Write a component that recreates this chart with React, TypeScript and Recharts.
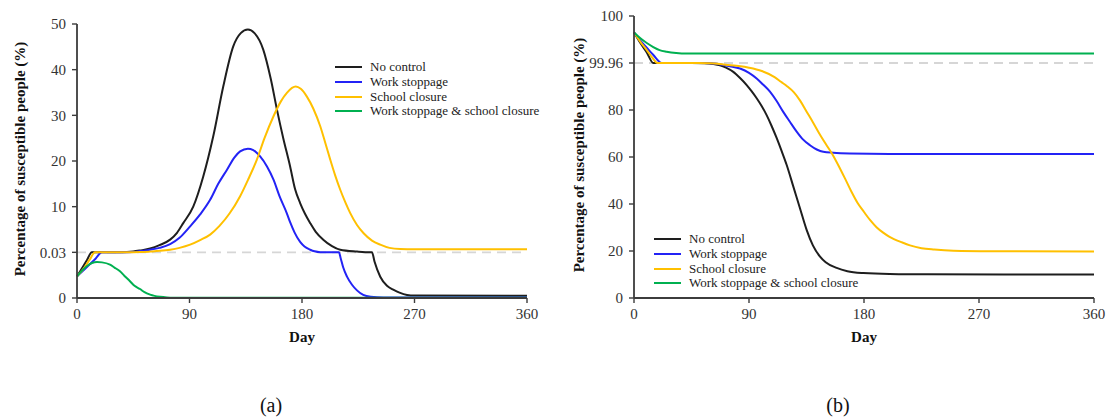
import { LineChart, Line, XAxis, YAxis, ReferenceLine, Label } from 'recharts';

// broken axes: each tick takes the same height, linear between ticks
const leftKnots = [0, 0.03, 10, 20, 30, 40, 50];
const leftTickLabels = ['0', '0.03', '10', '20', '30', '40', '50'];
const rightKnots = [0, 20, 40, 60, 80, 99.96, 100];
const rightTickLabels = ['0', '20', '40', '60', '80', '99.96', '100'];
const dayTicks = [0, 90, 180, 270, 360];
const posTicks = [0, 1, 2, 3, 4, 5, 6];

// (a) [day, %]
const aNoControl: [number, number][] = [
  [0, 0.0142], [4, 0.0195], [8, 0.025], [11.8, 0.03], [25, 0.03], [35, 0.03], [45, 0.2], [50.4, 0.43],
  [58.5, 0.85], [66, 1.6], [74.5, 2.8], [80, 4.3], [85, 6.4], [93, 10], [101, 16.6], [109, 25.4],
  [117, 36.3], [125, 45.1], [131, 48], [136.7, 48.8], [142, 48], [149, 44.4], [155, 38], [160, 31.2],
  [165, 25], [170.5, 18.8], [174.5, 13.8], [178.5, 10.8], [182.5, 8.4], [186.6, 6.4], [191, 4.5],
  [197, 2.8], [204, 1.4], [210.6, 0.6], [224, 0.2], [234.6, 0.03], [236, 0.03], [238, 0.024],
  [242.6, 0.014], [248, 0.008], [253, 0.0055], [258, 0.0035], [264, 0.002], [270, 0.0016], [360, 0.0015],
];
const aWork: [number, number][] = [
  [0, 0.0142], [5, 0.018], [10, 0.022], [15, 0.026], [19.8, 0.03], [35, 0.03], [45, 0.1], [50.4, 0.3],
  [58.5, 0.6], [66, 1.0], [74.5, 1.8], [82, 3.2], [90.5, 5.7], [98.5, 8.3], [106.5, 11.5], [113, 15],
  [120, 18.1], [126, 20.8], [130.5, 22.1], [136.7, 22.7], [141, 22.4], [146.5, 21], [152, 18.8],
  [157.2, 15.9], [162, 12.3], [167.8, 8.6], [170.5, 6.6], [174, 4.4], [178.5, 2.3], [182, 1.3],
  [186.6, 0.6], [190, 0.25], [194.6, 0.05], [200, 0.03], [209.5, 0.03], [211, 0.026], [213, 0.02],
  [216, 0.014], [220, 0.0087], [224, 0.005], [229, 0.002], [235, 0.0008], [245, 0.0003], [360, 0.0003],
];
const aSchool: [number, number][] = [
  [0, 0.0142], [5, 0.019], [10, 0.025], [14.4, 0.03], [40, 0.03], [50.4, 0.08], [58.5, 0.2],
  [66.5, 0.35], [74.5, 0.6], [82, 1.0], [90.5, 1.7], [98.5, 2.7], [106.5, 3.9], [114, 5.8], [122, 8.5],
  [130.5, 12.3], [137, 16], [143.9, 20.3], [150, 25], [157.2, 29.8], [163, 33], [167.9, 34.9], [172, 36],
  [175, 36.3], [179, 35.8], [183.9, 34.1], [189, 31.5], [194.6, 27.6], [198.6, 24], [202.6, 20.3],
  [206.6, 16.8], [210.6, 13.7], [214.6, 11], [218.6, 8.6], [224, 6], [229.3, 4.2], [236, 2.6],
  [242.6, 1.7], [250, 1.0], [258.6, 0.75], [270, 0.7], [360, 0.7],
];
const aBoth: [number, number][] = [
  [0, 0.0142], [4, 0.018], [8, 0.021], [12, 0.023], [16, 0.0236], [20, 0.0234], [26.4, 0.0219],
  [30, 0.02], [34.4, 0.0175], [38, 0.0145], [42.4, 0.011], [46, 0.008], [50.4, 0.0059], [54, 0.0038],
  [58.5, 0.0022], [62, 0.0014], [66.5, 0.0008], [72, 0.0004], [80, 0.0002], [90, 0.0001], [360, 0.0001],
];

// (b) [day, %]
const bNoControl: [number, number][] = [
  [0, 99.986], [5, 99.977], [10, 99.969], [15.1, 99.96], [30, 99.96], [45, 99.955], [55, 99.86],
  [62, 99.56], [67.3, 99.0], [72, 98.0], [77.7, 96.2], [83, 93.6], [88.2, 90.6], [92, 88], [96, 85],
  [100, 81.6], [103.8, 77.8], [107.7, 73.2], [111.7, 68], [115.5, 62.6], [119.5, 56.6], [124.7, 47.4],
  [130, 38], [135.1, 29], [140, 22.4], [145.6, 17.6], [150, 15.2], [158.6, 12.8], [167, 11.4],
  [179.5, 10.6], [200, 10.2], [230, 10.1], [360, 10],
];
const bWork: [number, number][] = [
  [0, 99.986], [5, 99.979], [10, 99.973], [15, 99.967], [21.7, 99.96], [40, 99.96], [55, 99.93],
  [62, 99.75], [67.3, 99.36], [75, 98.6], [83, 97.6], [90, 95.8], [96, 93.4], [101, 90.8], [106.4, 87.8],
  [111.5, 83.9], [116.8, 79.2], [122, 75], [127.3, 70.8], [132, 67.6], [137.7, 65], [143, 63.2],
  [148.1, 62.2], [156, 61.8], [169, 61.5], [200, 61.3], [360, 61.3],
];
const bSchool: [number, number][] = [
  [0, 99.986], [5, 99.978], [10, 99.971], [14, 99.965], [18.3, 99.96], [40, 99.96], [50, 99.95],
  [60, 99.86], [70, 99.36], [80, 98.76], [90, 97.96], [100, 96.57], [110, 93.97], [115, 91.98],
  [120, 89.98], [125, 87.58], [130, 84], [135, 79.4], [140, 74.8], [145, 70], [150, 65.6], [155, 61.4],
  [160, 56.4], [165, 51], [170, 45.4], [175, 40.4], [180, 36.6], [185, 33], [190, 30], [195, 27.8],
  [200, 26], [210, 23.6], [216, 22.4], [225, 21.2], [235, 20.6], [250, 20.1], [280, 19.9], [360, 19.8],
];
const bBoth: [number, number][] = [
  [0, 99.986], [5, 99.981], [10, 99.977], [15.1, 99.9736], [20, 99.971], [25.6, 99.9696], [33, 99.9685],
  [41, 99.968], [360, 99.968],
];

const seriesNames = ['No control', 'Work stoppage', 'School closure', 'Work stoppage & school closure'];
const seriesColors = ['#1e1e1e', '#2323f5', '#ffc000', '#00b050'];

const font = '"Liberation Serif", "Times New Roman", serif';
const axisColor = '#3c3c3c';

function toPos(v: number, knots: number[]) {
  for (let i = 0; i < knots.length - 1; i++) {
    if (v <= knots[i + 1]) return i + (v - knots[i]) / (knots[i + 1] - knots[i]);
  }
  return knots.length - 1;
}

const toRows = (pts: [number, number][], knots: number[]) =>
  pts.map(([day, v]) => ({ day, y: toPos(v, knots) }));

const yLabel = (cx: number) => (props: any) => {
  const vb = props.viewBox || { y: 0, height: 0 };
  const cy = vb.y + vb.height / 2 - 2;
  return (
    <text x={cx} y={cy} transform={`rotate(-90 ${cx} ${cy})`} textAnchor="middle" dominantBaseline="central"
      style={{ fontWeight: 'bold', fontSize: 15, fill: '#111', fontFamily: font }}>
      Percentage of susceptible people (%)
    </text>
  );
};

function Panel({ series, knots, labels, refValue, top, right, left, labelX }: any) {
  return (
    <LineChart width={550} height={360} margin={{ top, right, bottom: 32, left }}>
      <XAxis type="number" dataKey="day" domain={[0, 360]} ticks={dayTicks} height={30} tickSize={5} tickMargin={5}
        axisLine={{ stroke: axisColor, strokeWidth: 1.8 }} tickLine={{ stroke: axisColor, strokeWidth: 1.4 }}
        tick={{ fill: '#333', fontSize: 15, fontFamily: font }}>
        <Label value="Day" position="bottom" offset={3} style={{ fontWeight: 'bold', fontSize: 15, fill: '#111', fontFamily: font }} />
      </XAxis>
      <YAxis type="number" domain={[0, 6]} ticks={posTicks} width={70} tickSize={5} tickMargin={6}
        tickFormatter={(v: number) => labels[v]} interval={0}
        axisLine={{ stroke: axisColor, strokeWidth: 1.8 }} tickLine={{ stroke: axisColor, strokeWidth: 1.4 }}
        tick={{ fill: '#333', fontSize: 15, fontFamily: font }}>
        <Label content={yLabel(labelX)} />
      </YAxis>
      <ReferenceLine y={toPos(refValue, knots)} stroke="#d6d6d6" strokeWidth={1.8} strokeDasharray="9 6" />
      {series.map((pts: [number, number][], i: number) => (
        <Line key={seriesNames[i]} data={toRows(pts, knots)} dataKey="y" type="monotone" stroke={seriesColors[i]}
          strokeWidth={2} dot={false} activeDot={false} isAnimationActive={false} name={seriesNames[i]} />
      ))}
    </LineChart>
  );
}

function LegendBox({ left, top }: { left: number; top: number }) {
  return (
    <div style={{ position: 'absolute', left, top, fontSize: 13, color: '#222' }}>
      {seriesNames.map((n, i) => (
        <div key={n} style={{ display: 'flex', alignItems: 'center', height: 14.7, whiteSpace: 'nowrap' }}>
          <span style={{ display: 'inline-block', width: 27, borderTop: `2px solid ${seriesColors[i]}`, marginRight: 8 }} />
          <span>{n}</span>
        </div>
      ))}
    </div>
  );
}

export default function App() {
  return (
    <div style={{ position: 'absolute', left: 0, top: 0, width: 1110, height: 419, background: '#fff', fontFamily: font, overflow: 'hidden' }}>
      <div style={{ position: 'absolute', left: 0, top: 0 }}>
        <Panel series={[aNoControl, aWork, aSchool, aBoth]} knots={leftKnots} labels={leftTickLabels}
          refValue={0.03} top={24} right={23} left={7} labelX={20} />
      </div>
      <div style={{ position: 'absolute', left: 560, top: 0 }}>
        <Panel series={[bNoControl, bWork, bSchool, bBoth]} knots={rightKnots} labels={rightTickLabels}
          refValue={99.96} top={16} right={16} left={4} labelX={19} />
      </div>
      <LegendBox left={335} top={60} />
      <LegendBox left={654} top={232} />
      <div style={{ position: 'absolute', left: 241, top: 393, width: 60, textAlign: 'center', fontSize: 20, lineHeight: '24px', color: '#111' }}>(a)</div>
      <div style={{ position: 'absolute', left: 808, top: 393, width: 60, textAlign: 'center', fontSize: 20, lineHeight: '24px', color: '#111' }}>(b)</div>
    </div>
  );
}
